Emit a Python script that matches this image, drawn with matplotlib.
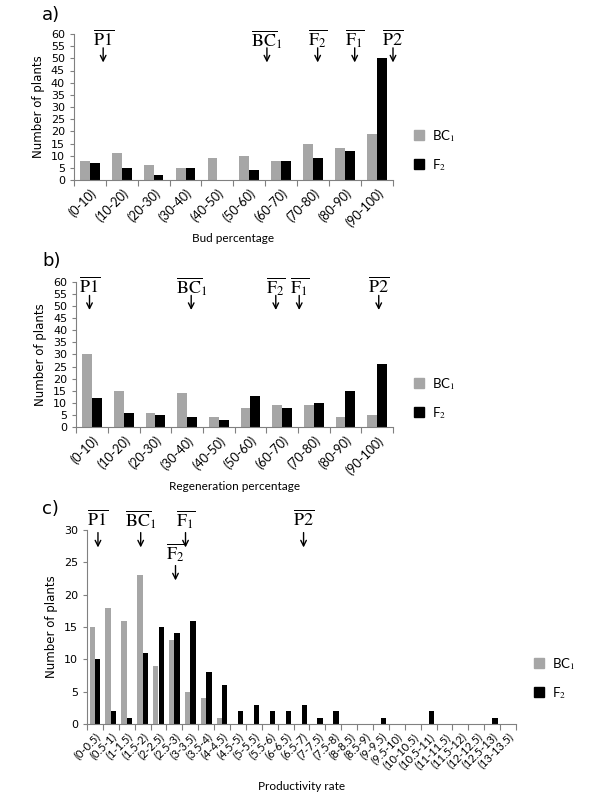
import numpy as np
import matplotlib.pyplot as plt
from matplotlib.patches import Patch

plt.rcParams['mathtext.fontset'] = 'stix'

# ---- data ----
bud_cats = ["(0-10)", "(10-20)", "(20-30)", "(30-40)", "(40-50)", "(50-60)",
            "(60-70)", "(70-80)", "(80-90)", "(90-100)"]
bud_bc1 = [8, 11, 6, 5, 9, 10, 8, 15, 13, 19]
bud_f2 = [7, 5, 2, 5, 0, 4, 8, 9, 12, 50]

reg_cats = bud_cats
reg_bc1 = [30, 15, 6, 14, 4, 8, 9, 9, 4, 5]
reg_f2 = [12, 6, 5, 4, 3, 13, 8, 10, 15, 26]

prod_cats = ["(0-0.5)", "(0.5-1)", "(1-1.5)", "(1.5-2)", "(2-2.5)", "(2.5-3)",
             "(3-3.5)", "(3.5-4)", "(4-4.5)", "(4.5-5)", "(5-5.5)", "(5.5-6)",
             "(6-6.5)", "(6.5-7)", "(7-7.5)", "(7.5-8)", "(8-8.5)", "(8.5-9)",
             "(9-9.5)", "(9.5-10)", "(10-10.5)", "(10.5-11)", "(11-11.5)",
             "(11.5-12)", "(12-12.5)", "(12.5-13)", "(13-13.5)"]
prod_bc1 = [15, 18, 16, 23, 9, 13, 5, 4, 1, 0, 0, 0, 0, 0, 0, 0, 0, 0,
            0, 0, 0, 0, 0, 0, 0, 0, 0]
prod_f2 = [10, 2, 1, 11, 15, 14, 16, 8, 6, 2, 3, 2, 2, 3, 1, 2, 0, 0,
           1, 0, 0, 2, 0, 0, 0, 1, 0]

# mean markers: (label, x in category units, label y, arrow start y, arrow tip y)
bud_marks = [(r"$\overline{\mathrm{P1}}$", 0.42, 57.8, 54.3, 48.3),
             (r"$\overline{\mathrm{BC}}_1$", 5.55, 57.8, 54.3, 48.3),
             (r"$\overline{\mathrm{F}_2}$", 7.14, 57.8, 54.3, 48.3),
             (r"$\overline{\mathrm{F}_1}$", 8.3, 57.8, 54.3, 48.3),
             (r"$\overline{\mathrm{P2}}$", 9.5, 57.8, 54.3, 48.3)]
reg_marks = [(r"$\overline{\mathrm{P1}}$", -0.08, 58, 54.3, 48.3),
             (r"$\overline{\mathrm{BC}}_1$", 3.13, 58, 54.3, 48.3),
             (r"$\overline{\mathrm{F}_2}$", 5.8, 58, 54.3, 48.3),
             (r"$\overline{\mathrm{F}_1}$", 6.54, 58, 54.3, 48.3),
             (r"$\overline{\mathrm{P2}}$", 9.05, 58, 54.3, 48.3)]
prod_marks = [(r"$\overline{\mathrm{P1}}$", 0.19, 31.6, 29.6, 27.3),
              (r"$\overline{\mathrm{BC}}_1$", 2.88, 31.6, 29.6, 27.3),
              (r"$\overline{\mathrm{F}_1}$", 5.7, 31.6, 29.6, 27.3),
              (r"$\overline{\mathrm{F}_2}$", 5.07, 26.4, 24.5, 22.2),
              (r"$\overline{\mathrm{P2}}$", 13.13, 31.6, 29.6, 27.3)]

GRAY = "#a6a6a6"
fig = plt.figure(figsize=(6, 8), dpi=100)


def panel(rect, cats, bc1, f2, ymax, xlabel, marks, tag, tagpos, legpos,
          xlab_y, barw, tickfs):
    ax = fig.add_axes(rect)
    x = np.arange(len(cats))
    ax.bar(x - barw / 2, bc1, barw, color=GRAY)
    ax.bar(x + barw / 2, f2, barw, color="black")
    ax.set_xlim(-0.5, len(cats) - 0.5)
    ax.set_ylim(0, ymax)
    ax.set_yticks(np.arange(0, ymax + 1, 5))
    ax.tick_params(axis='y', labelsize=8, length=3, color='#808080')
    ax.set_xticks(np.arange(len(cats) + 1) - 0.5)
    ax.set_xticklabels([])
    ax.tick_params(axis='x', which='major', length=4, color='#808080')
    ax.set_xticks(x, minor=True)
    ax.set_xticklabels(cats, minor=True, rotation=45, ha='right',
                       rotation_mode='anchor', fontsize=tickfs, family='Lato')
    ax.tick_params(axis='x', which='minor', length=0, pad=5)
    for s in ['top', 'right']:
        ax.spines[s].set_visible(False)
    for s in ['left', 'bottom']:
        ax.spines[s].set_color('#808080')
    ax.set_ylabel("Number of plants", fontsize=8.5)
    fig.text(rect[0] + rect[2] / 2, xlab_y, xlabel, ha='center',
             fontsize=8.5, family='Lato')
    fig.text(tagpos[0], tagpos[1], tag, fontsize=13)
    for lab, xm, ylab, ystart, ytip in marks:
        ax.text(xm, ylab, lab, ha='center', va='center', fontsize=13,
                clip_on=False)
        ax.annotate('', xy=(xm, ytip), xytext=(xm, ystart),
                    annotation_clip=False,
                    arrowprops=dict(arrowstyle='->', lw=1, color='black',
                                    shrinkA=0, shrinkB=0))
    handles = [Patch(color=GRAY, label=r"BC$_1$"), Patch(color="black", label=r"F$_2$")]
    fig.legend(handles=handles, loc='upper left', bbox_to_anchor=legpos,
               frameon=False, handlelength=0.8, handleheight=0.8,
               labelspacing=1.0, handletextpad=0.6,
               prop={'family': 'Lato', 'size': 9.5})
    return ax


panel([0.123, 0.775, 0.532, 0.1825], bud_cats, bud_bc1, bud_f2, 60,
      "Bud percentage", bud_marks, "a)", (0.07, 0.975), (0.67, 0.855),
      0.698, 0.31, 9)
panel([0.127, 0.466, 0.528, 0.182], reg_cats, reg_bc1, reg_f2, 60,
      "Regeneration percentage", reg_marks, "b)", (0.07, 0.667), (0.67, 0.545),
      0.388, 0.31, 9)
panel([0.145, 0.095, 0.715, 0.2425], prod_cats, prod_bc1, prod_f2, 30,
      "Productivity rate", prod_marks, "c)", (0.07, 0.358), (0.87, 0.195),
      0.013, 0.34, 8)

fig.savefig("out.png", dpi=100)
